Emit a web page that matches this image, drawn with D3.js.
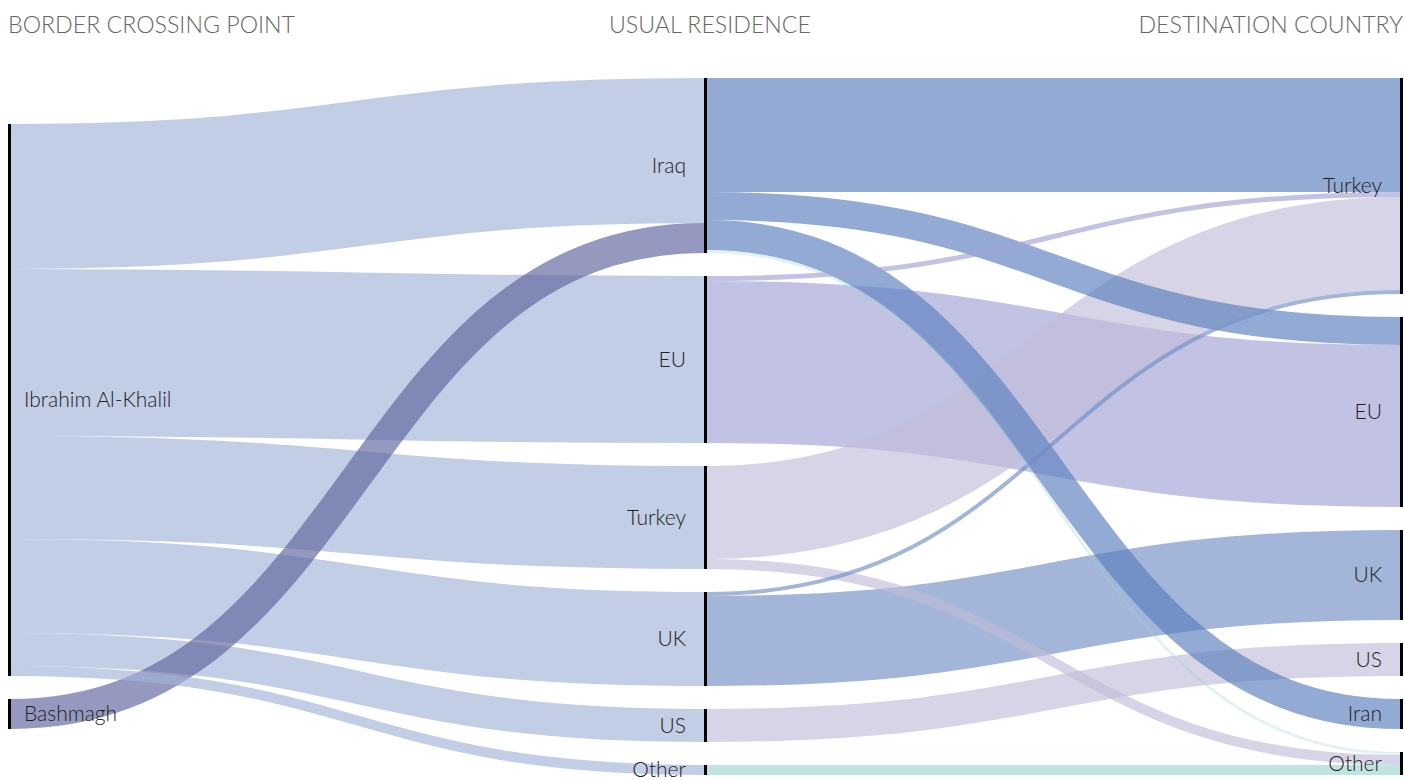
<!DOCTYPE html>
<html>
<head>
<meta charset="utf-8">
<script src="https://cdn.jsdelivr.net/npm/d3@7"></script>
<style>
  body { margin: 0; background: #fff; }
  svg { display: block; font-family: Lato, "Open Sans", sans-serif; }
  .header { fill: #666; font-size: 23.2px; font-weight: 300; }
  .label { fill: #222; font-size: 21px; font-weight: 300; }
</style>
</head>
<body>
<svg id="chart" width="1405" height="780"></svg>
<script>
// columns, top to bottom
const crossingPoints = ["Ibrahim Al-Khalil", "Bashmagh"];
const residences = ["Iraq", "EU", "Turkey", "UK", "US", "Other"];
const destinations = ["Turkey", "EU", "UK", "US", "Iran", "Other"];
const headers = ["BORDER CROSSING POINT", "USUAL RESIDENCE", "DESTINATION COUNTRY"];

// [source, target, value]
const crossingToResidence = [
    ["Ibrahim Al-Khalil", "Iraq", 145],
    ["Ibrahim Al-Khalil", "EU", 167],
    ["Ibrahim Al-Khalil", "Turkey", 103],
    ["Ibrahim Al-Khalil", "UK", 94],
    ["Ibrahim Al-Khalil", "US", 33],
    ["Ibrahim Al-Khalil", "Other", 10],
    ["Bashmagh", "Iraq", 30]
];
const residenceToDestination = [
    ["Iraq", "Turkey", 114],
    ["Iraq", "EU", 28],
    ["Iraq", "Iran", 30],
    ["Iraq", "Other", 3],
    ["EU", "Turkey", 5],
    ["EU", "EU", 162],
    ["Turkey", "Turkey", 93],
    ["Turkey", "Other", 10],
    ["UK", "Turkey", 4],
    ["UK", "UK", 90],
    ["US", "US", 33],
    ["Other", "Other", 10]
];

// link colour by source node (drawn at LINK_OPACITY)
const linkColor = {
    "Ibrahim Al-Khalil": "#a2b2d8",
    "Bashmagh": "#5c629c",
    "Iraq": "#597ebd",
    "EU": "#a1a3d6",
    "Turkey": "#c0bdd8",
    "UK": "#728dc4",
    "US": "#c0bdd8",
    "Other": "#9ed5d4"
};
const LINK_OPACITY = 0.65;

const svg = d3.select("#chart");
const margin = {top: 78, bottom: 5, left: 8, right: 2};
const width = +svg.attr("width");
const height = +svg.attr("height");
const nodeWidth = 3;
const nodePadding = 23;

const columns = [crossingPoints, residences, destinations];
const linkSets = [crossingToResidence, residenceToDestination];

const x = d3.scaleLinear()
    .domain([0, columns.length - 1])
    .range([margin.left, width - margin.right - nodeWidth]);

// build nodes with totals
const nodes = columns.map((names, ci) => names.map((name) => ({name: name, col: ci, value: 0, outOff: 0, inOff: 0})));
const find = (ci, name) => nodes[ci].find((n) => n.name === name);

const links = [];
linkSets.forEach((set, si) => {
    set.forEach(([s, t, v]) => {
        links.push({source: find(si, s), target: find(si + 1, t), value: v});
    });
});
nodes.forEach((col, ci) => col.forEach((n) => {
    const ins = d3.sum(links.filter((l) => l.target === n), (l) => l.value);
    const outs = d3.sum(links.filter((l) => l.source === n), (l) => l.value);
    n.value = Math.max(ins, outs);
}));

const innerH = height - margin.top - margin.bottom;
const maxSpace = d3.max(nodes, (col) => d3.sum(col, (n) => n.value) / (innerH - (col.length - 1) * nodePadding));
const y = d3.scaleLinear().domain([0, maxSpace * innerH]).range([0, innerH]);
const innerBottom = margin.top + y(d3.max(nodes, (col) => d3.sum(col, (n) => n.value))) + 5 * nodePadding;

// stack nodes, centring columns that are shorter than the tallest
nodes.forEach((col) => {
    const colH = d3.sum(col, (n) => y(n.value)) + (col.length - 1) * nodePadding;
    let cy = margin.top + (innerBottom - margin.top - colH) / 2;
    col.forEach((n) => {
        n.y0 = cy;
        n.y1 = cy + y(n.value);
        cy = n.y1 + nodePadding;
    });
});

// link offsets: sources ordered by target, targets ordered by source
nodes.forEach((col) => col.forEach((n) => {
    links.filter((l) => l.source === n).forEach((l) => {
        l.w = y(l.value);
        l.sy = n.y0 + n.outOff + l.w / 2;
        n.outOff += l.w;
    });
}));
nodes.forEach((col) => col.forEach((n) => {
    links.filter((l) => l.target === n).forEach((l) => {
        l.ty = n.y0 + n.inOff + l.w / 2;
        n.inOff += l.w;
    });
}));

const linkPath = d3.linkHorizontal()
    .source((d) => [x(d.source.col) + nodeWidth, d.sy])
    .target((d) => [x(d.target.col), d.ty]);

const isIraqOther = (d) => d.source.name === "Iraq" && d.target.name === "Other";

// wide links underneath, thin ones on top
svg.append("g")
    .attr("fill", "none")
    .selectAll("path")
    .data(links.slice().sort((a, b) => b.value - a.value))
    .enter()
    .append("path")
    .attr("d", linkPath)
    .attr("stroke", (d) => isIraqOther(d) ? linkColor.Other : linkColor[d.source.name])
    .attr("stroke-opacity", (d) => isIraqOther(d) ? 0.3 : LINK_OPACITY)
    .attr("stroke-width", (d) => d.w);

const allNodes = nodes.flat();

svg.append("g")
    .selectAll("rect")
    .data(allNodes)
    .enter()
    .append("rect")
    .attr("x", (d) => x(d.col))
    .attr("y", (d) => d.y0)
    .attr("width", nodeWidth)
    .attr("height", (d) => d.y1 - d.y0)
    .attr("fill", "#000");

svg.append("g")
    .selectAll("text")
    .data(allNodes)
    .enter()
    .append("text")
    .attr("class", "label")
    .attr("x", (d) => d.col === 0 ? x(d.col) + 16 : x(d.col) - 18)
    .attr("y", (d) => (d.y0 + d.y1) / 2)
    .attr("dy", "0.35em")
    .style("text-anchor", (d) => d.col === 0 ? "start" : "end")
    .text((d) => d.name);

svg.append("g")
    .selectAll("text")
    .data(headers)
    .enter()
    .append("text")
    .attr("class", "header")
    .attr("x", (d, i) => i === 0 ? 8 : i === 1 ? 710 : width - 2)
    .attr("y", 33)
    .style("text-anchor", (d, i) => ["start", "middle", "end"][i])
    .text((d) => d);
</script>
</body>
</html>
